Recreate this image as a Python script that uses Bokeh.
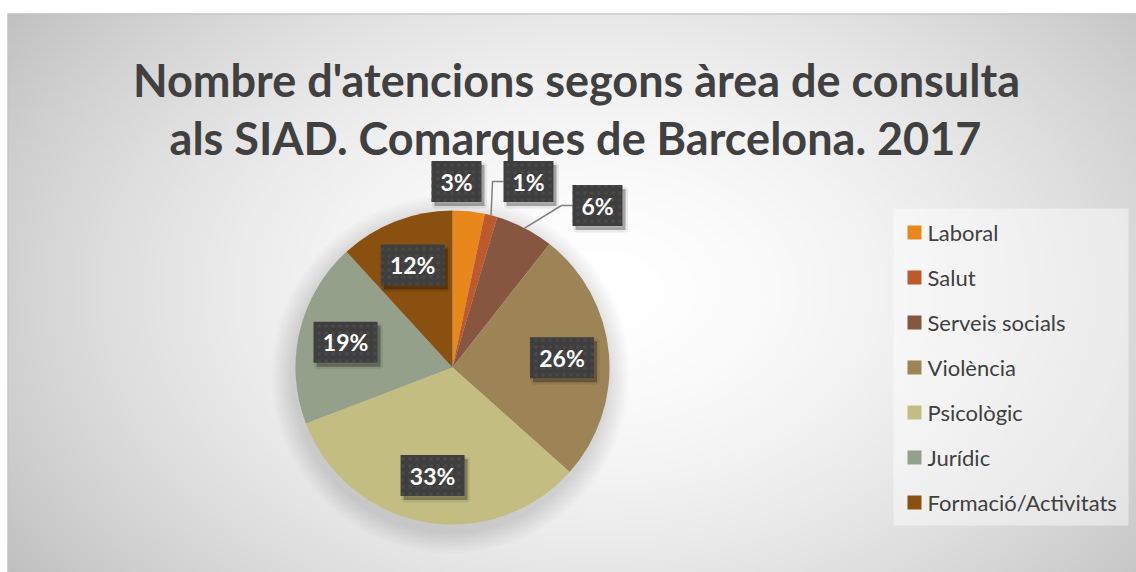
import numpy as np
from bokeh.plotting import figure
from bokeh.models import Range1d, ColumnDataSource
from bokeh.core.properties import value
from bokeh.embed import file_html
from bokeh.resources import INLINE

# ---------------- data ----------------
title_lines = ["Nombre d'atencions segons àrea de consulta",
               "als SIAD. Comarques de Barcelona. 2017"]
categories = ["Laboral", "Salut", "Serveis socials", "Violència",
              "Psicològic", "Jurídic", "Formació/Activitats"]
shares = [3.3, 1.3, 6.0, 26.0, 32.6, 19.0, 11.8]
colors = ["#E8871A", "#BC5A2E", "#865640", "#9C8457",
          "#C3BD82", "#94A089", "#8A5010"]

# ---------------- layout (screen pixels; data y = -screen y) ----------------
W, H = 1136, 572
CX, CY, R = 452, 367, 157
FONT = value("Lato")
TXT = "#404040"

p = figure(width=W, height=H, x_range=Range1d(0, W), y_range=Range1d(-H, 0),
           output_backend="svg", toolbar_location=None, min_border=0,
           x_axis_type=None, y_axis_type=None)
p.grid.visible = False
p.outline_line_color = None
p.background_fill_color = "white"
p.border_fill_color = "white"

# background radial gradient
nx, ny = 282, 140
sx = 7 + (np.arange(nx) + 0.5) * (1129 / nx)
sy = 13 + (np.arange(ny) + 0.5) * (559 / ny)
X, Y = np.meshgrid(sx, sy)
d = np.sqrt(((X - 600) / 700) ** 2 + ((Y - 290) / 480) ** 2)
v = (255 - 60 * np.clip(d, 0, 1.05) ** 1.7).astype(np.uint32)
img = (255 << 24) | (v << 16) | (v << 8) | v
img = img[::-1].astype(np.uint32)
p.image_rgba(image=[img], x=7, y=-572, dw=1129, dh=559)
p.segment(x0=7, y0=-13.5, x1=1136, y1=-13.5, line_color="#BDBDBD", line_width=1)
p.segment(x0=7.5, y0=-13, x1=7.5, y1=-572, line_color="#C4C4C4", line_width=1)

# soft pie shadow
for k in range(2, 24, 2):
    p.circle(x=CX - 2, y=-(CY + 7), radius=R + k, fill_color="black",
             fill_alpha=0.012, line_color=None)

# pie wedges
frac = np.array(shares) / sum(shares)
cum = np.concatenate([[0], np.cumsum(frac)])
start = np.pi / 2 - cum[:-1] * 2 * np.pi
end = np.pi / 2 - cum[1:] * 2 * np.pi
src = ColumnDataSource(dict(start=start, end=end, color=colors))
p.wedge(x=CX, y=-CY, radius=R, start_angle="start", end_angle="end",
        direction="clock", fill_color="color", line_color=None, source=src)

# data labels
mid = (start + end) / 2
labels = [f"{round(s)}%" for s in shares]
outside_pos = {0: (456, 181), 1: (528, 181), 2: (597, 205)}
lx, ly, lw = [], [], []
for i, lab in enumerate(labels):
    if i in outside_pos:
        x, y = outside_pos[i]
    else:
        x = CX + 0.70 * R * np.cos(mid[i])
        y = CY - 0.70 * R * np.sin(mid[i])
    lx.append(x); ly.append(-y); lw.append(50 if len(lab) == 2 else 64)

# leader lines for small outside labels
for i in (1, 2):
    bx = lx[i] - lw[i] / 2
    by = ly[i]
    ex = CX + R * np.cos(mid[i])
    ey = -CY + R * np.sin(mid[i])
    p.line(x=[bx, bx - 11, ex], y=[by, by, ey], line_color="#7F7F7F", line_width=1.5)

lsrc = ColumnDataSource(dict(x=lx, y=ly, w=lw, t=labels))
lsh = ColumnDataSource(dict(x=[a + 3 for a in lx], y=[b - 4 for b in ly], w=lw))
p.rect(x="x", y="y", width="w", height=41, fill_color="black", fill_alpha=0.10,
       line_color="black", line_alpha=0.07, line_width=5, source=lsh)
p.rect(x="x", y="y", width="w", height=41, fill_color="black", fill_alpha=0.22,
       line_color=None, source=lsh)
p.rect(x="x", y="y", width="w", height=41, fill_color="#3E3E3E", line_color=None,
       hatch_pattern="dot", hatch_color="#4C4C4C", hatch_alpha=0.8, hatch_scale=7,
       hatch_weight=1.2, source=lsrc)
p.text(x="x", y="y", text="t", text_font=FONT, text_font_style="bold",
       text_font_size="23px", text_color="white", text_align="center",
       text_baseline="middle", source=lsrc)

# title
p.text(x=[576, 575], y=[-79, -137], text=title_lines, text_font=FONT,
       text_font_style="bold", text_font_size="45px", text_color=TXT,
       text_align="center", text_baseline="alphabetic")

# legend
p.quad(left=893, right=1128, top=-208, bottom=-525, fill_color="white",
       fill_alpha=0.45, line_color=None)
ly_leg = [-(232 + 45 * i) for i in range(len(categories))]
p.rect(x=[914] * len(categories), y=ly_leg, width=14, height=14,
       fill_color=colors, line_color=None)
p.text(x=[927] * len(categories), y=ly_leg, text=categories, text_font=FONT,
       text_font_size="22px", text_color=TXT, text_align="left",
       text_baseline="middle")

open("out.html", "w").write(file_html(p, INLINE))
